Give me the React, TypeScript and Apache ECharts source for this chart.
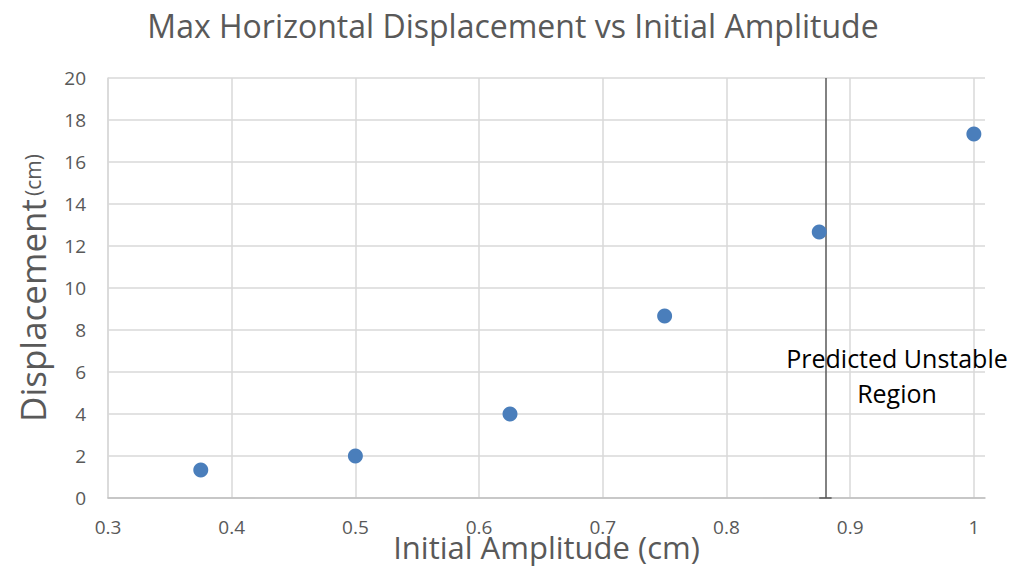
import React, { useEffect, useRef } from "react";
import * as echarts from "echarts";

const amplitudes = [0.375, 0.5, 0.625, 0.75, 0.875, 1.0];
const displacements = [1.33, 2.0, 4.0, 8.67, 12.67, 17.33];
const unstableThreshold = 0.88;
const capHalfWidth = 0.005;
const titleText = "Max Horizontal Displacement vs Initial Amplitude";
const xName = "Initial Amplitude (cm)";
const annotation = "Predicted Unstable\nRegion";

export default function App() {
  const ref = useRef<HTMLDivElement>(null);
  useEffect(() => {
    if (!ref.current) return;
    const chart = echarts.init(ref.current, undefined, { renderer: "svg" });
    const font = "'Open Sans', sans-serif";
    chart.setOption({
      animation: false,
      backgroundColor: "#ffffff",
      textStyle: { fontFamily: font },
      title: {
        text: titleText,
        left: "center",
        top: 4,
        textStyle: { fontFamily: font, fontSize: 32, fontWeight: "normal", color: "#595959" },
      },
      grid: { left: 108, right: 41, top: 78, bottom: 76, outerBoundsMode: "none", containLabel: false },
      xAxis: {
        type: "value",
        min: 0.3,
        max: 1.009,
        interval: 0.1,
        name: xName,
        nameLocation: "middle",
        nameGap: 33,
        nameMoveOverlap: false,
        nameTextStyle: { fontFamily: font, fontSize: 31, color: "#595959" },
        axisLine: { show: true, lineStyle: { color: "#bfbfbf", width: 1.5 } },
        axisTick: { show: false },
        axisLabel: {
          color: "#595959",
          fontSize: 19,
          margin: 19,
          showMaxLabel: false,
          formatter: (v: number) => String(Math.round(v * 10) / 10),
        },
        splitLine: { show: true, showMaxLine: false, lineStyle: { color: "#d9d9d9", width: 1.5 } },
      },
      yAxis: {
        type: "value",
        min: 0,
        max: 20,
        interval: 2,
        name: "{a|Displacement} {b|(cm)}",
        nameLocation: "middle",
        nameGap: 58,
        nameRotate: 90,
        nameMoveOverlap: false,
        nameTextStyle: {
          rich: {
            a: { fontFamily: font, fontSize: 35, color: "#595959" },
            b: { fontFamily: font, fontSize: 21, color: "#595959" },
          },
        },
        axisLine: { show: true, lineStyle: { color: "#d9d9d9", width: 1.5 } },
        axisTick: { show: false },
        axisLabel: { color: "#595959", fontSize: 19, margin: 22 },
        splitLine: { show: true, lineStyle: { color: "#d9d9d9", width: 1.5 } },
      },
      series: [
        {
          type: "scatter",
          data: amplitudes.map((a, i) => [a, displacements[i]]),
          symbolSize: 15,
          itemStyle: { color: "#4a7ebb", opacity: 1 },
          z: 5,
          markLine: {
            silent: true,
            symbol: "none",
            label: { show: false },
            lineStyle: { color: "#595959", width: 1.5, type: "solid" },
            data: [
              [{ coord: [unstableThreshold, 0] }, { coord: [unstableThreshold, 20] }],
              [
                { coord: [unstableThreshold - capHalfWidth, 0] },
                { coord: [unstableThreshold + capHalfWidth, 0] },
              ],
            ],
          },
        },
      ],
      graphic: [
        {
          type: "text",
          x: 897,
          y: 340,
          style: {
            text: annotation,
            fontFamily: font,
            fontSize: 25,
            fill: "#000000",
            align: "center",
            lineHeight: 35,
          },
          z: 10,
        },
      ],
    });
    return () => chart.dispose();
  }, []);
  return <div ref={ref} style={{ width: 1026, height: 574, position: "absolute", left: 0, top: 0 }} />;
}
